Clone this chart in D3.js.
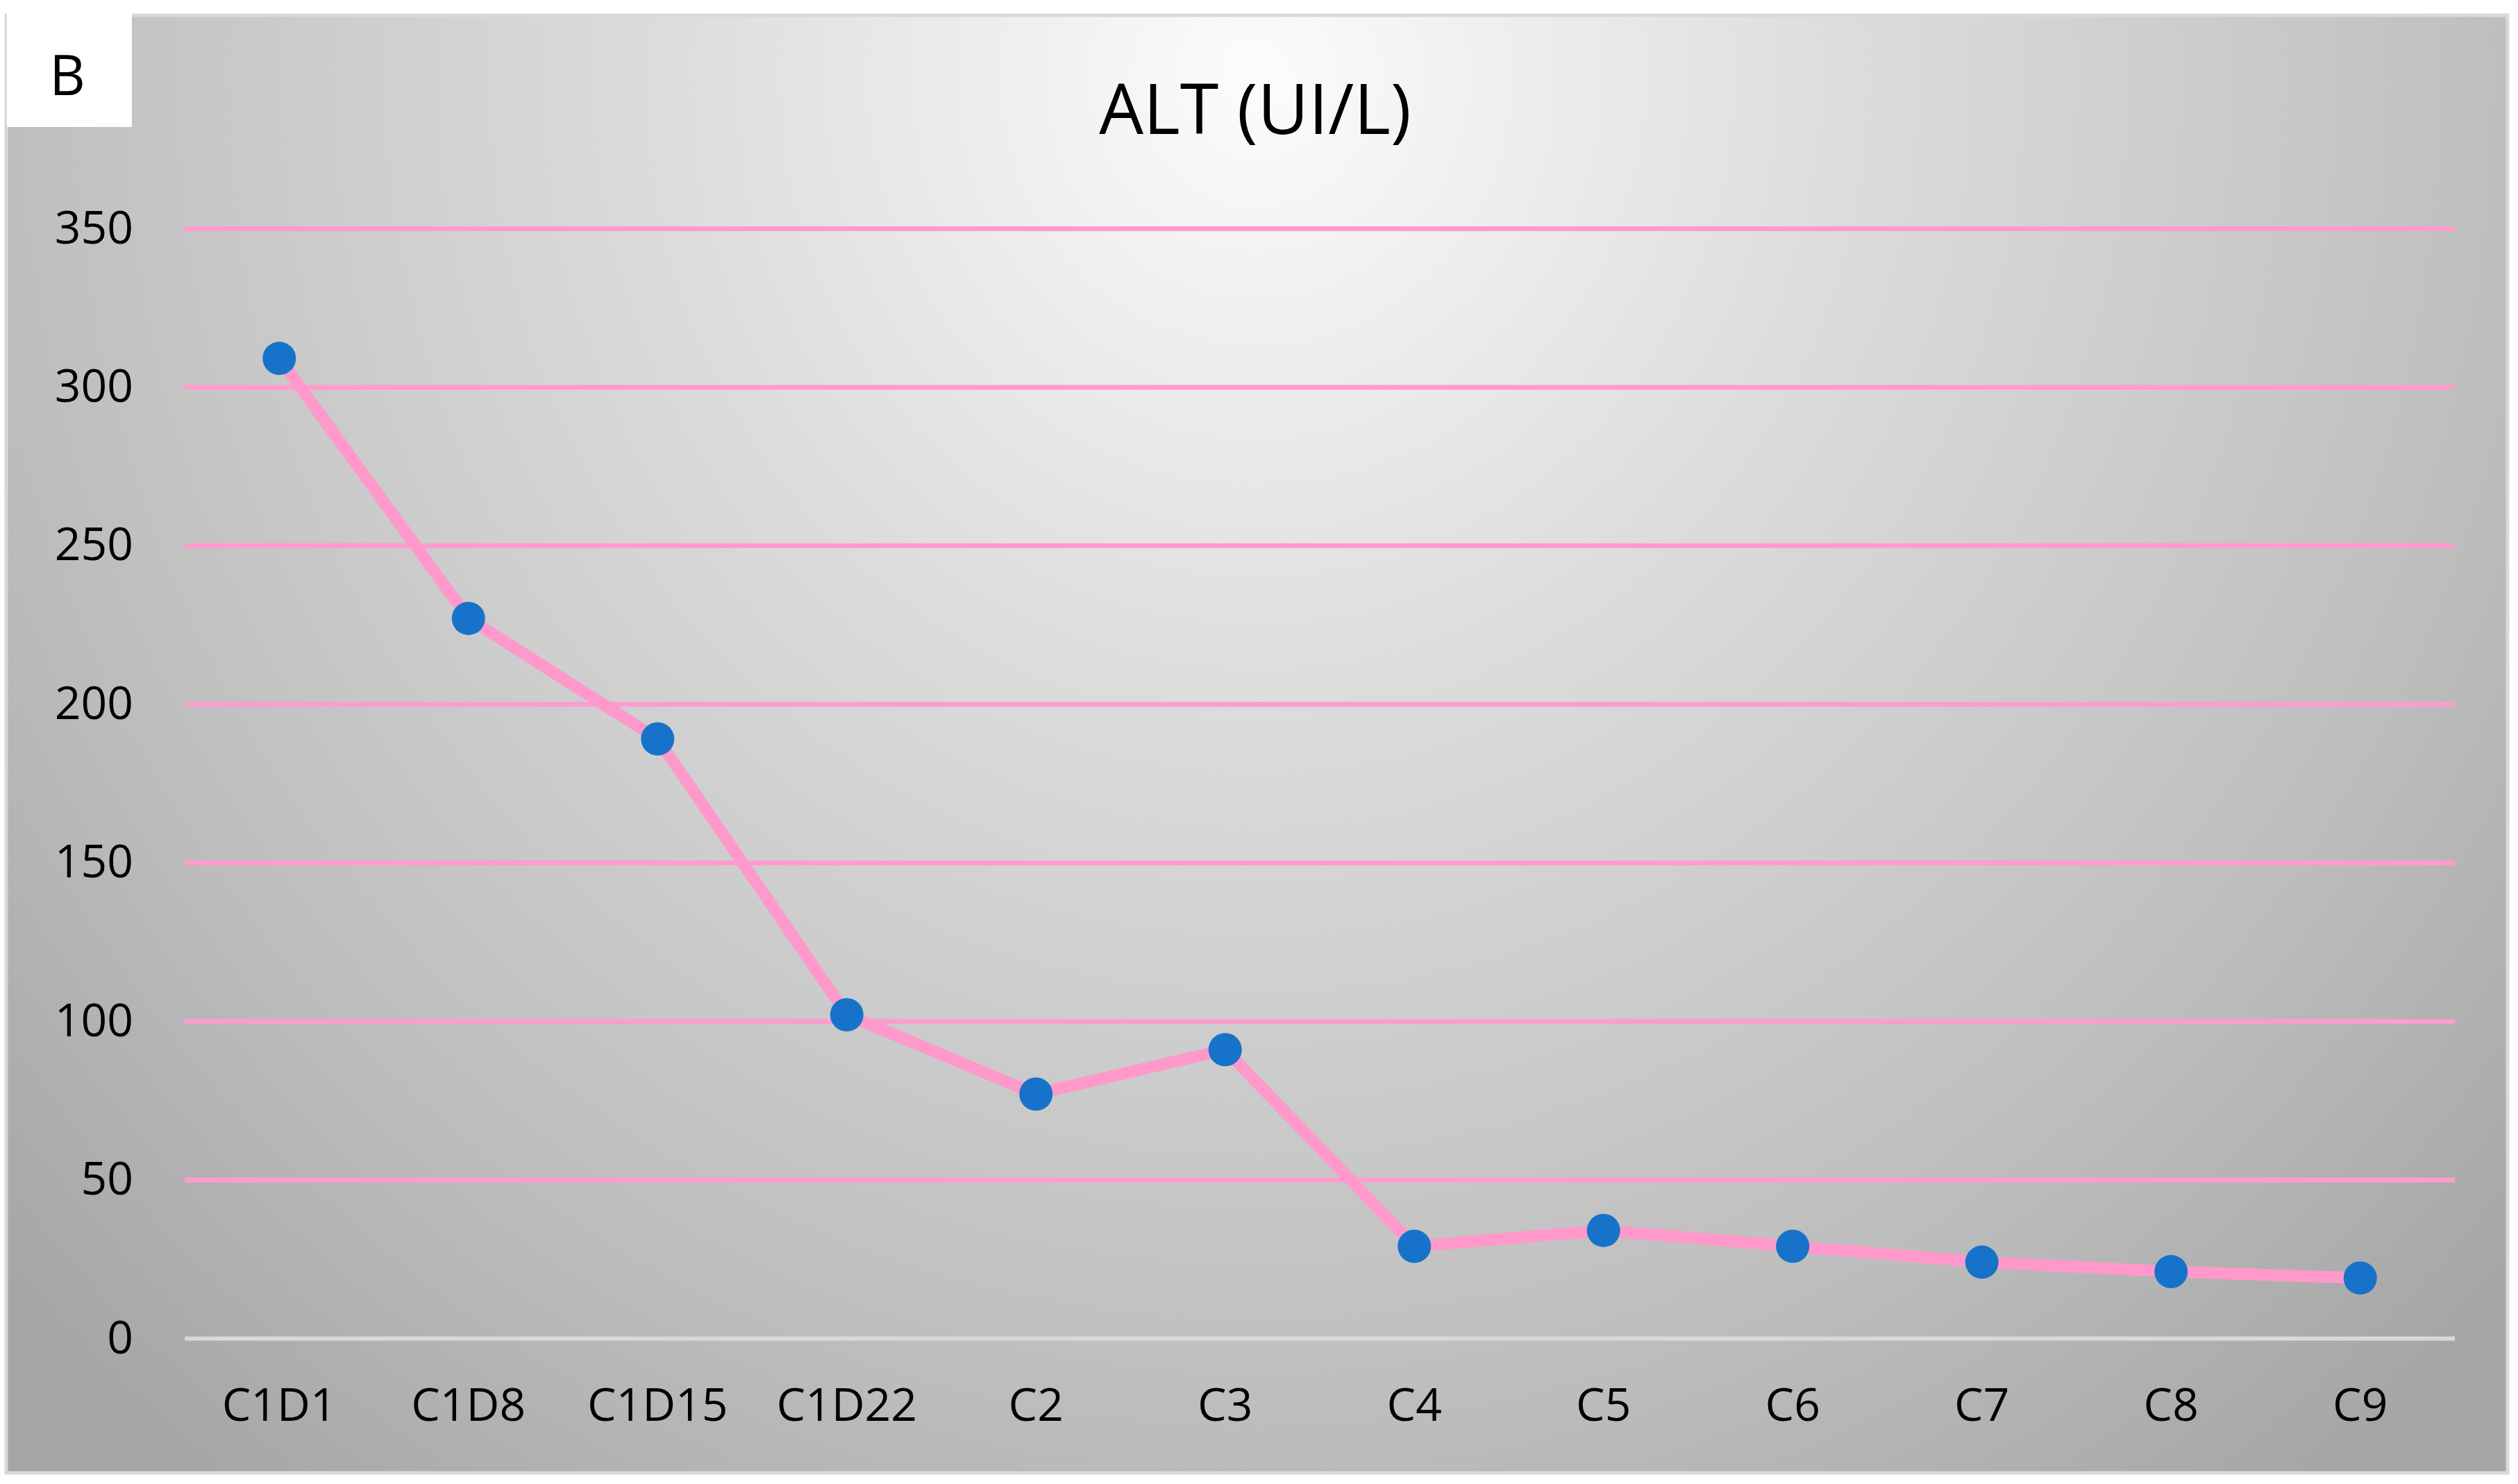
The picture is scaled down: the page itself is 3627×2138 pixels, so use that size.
<!DOCTYPE html>
<html>
<head>
<meta charset="utf-8">
<script src="https://cdn.jsdelivr.net/npm/d3@7"></script>
<style>
  html, body { margin: 0; padding: 0; background: #fff; }
  svg { display: block; font-family: "Open Sans", "Noto Sans", sans-serif; }
</style>
</head>
<body>
<svg id="chart" width="3627" height="2138"></svg>
<script>
// data
var categories = ["C1D1", "C1D8", "C1D15", "C1D22", "C2", "C3", "C4", "C5", "C6", "C7", "C8", "C9"];
var altValues = [309, 227, 189, 102, 77, 91, 29, 34, 29, 24, 21, 19];
var yTicks = [0, 50, 100, 150, 200, 250, 300, 350];
var chartTitle = "ALT (UI/L)";
var panelLabel = "B";

var svg = d3.select("#chart");
var plotL = 266, plotR = 3536, plotT = 329, plotB = 1928;

// background gradient, light at the top centre
var defs = svg.append("defs");
var grad = defs.append("radialGradient")
  .attr("id", "bg")
  .attr("gradientUnits", "userSpaceOnUse")
  .attr("cx", 1810).attr("cy", 110).attr("r", 2450)
  .attr("gradientTransform", "translate(1810,110) scale(1,1.05) translate(-1810,-110)");
grad.append("stop").attr("offset", "0").attr("stop-color", "#fcfcfc");
grad.append("stop").attr("offset", "0.35").attr("stop-color", "#dcdcdc");
grad.append("stop").attr("offset", "0.75").attr("stop-color", "#bdbdbd");
grad.append("stop").attr("offset", "1").attr("stop-color", "#a6a6a6");

svg.append("rect")
  .attr("x", 9).attr("y", 22).attr("width", 3603).attr("height", 2100)
  .attr("fill", "url(#bg)")
  .attr("stroke", "#d9d9d9").attr("stroke-width", 5);

// panel letter box
svg.append("rect")
  .attr("x", 10).attr("y", 19).attr("width", 180).attr("height", 164)
  .attr("fill", "#ffffff");
svg.append("text")
  .attr("x", 97).attr("y", 137)
  .attr("text-anchor", "middle")
  .attr("font-size", 80)
  .attr("fill", "#000")
  .text(panelLabel);

// title
svg.append("text")
  .attr("x", 1808).attr("y", 193)
  .attr("text-anchor", "middle")
  .attr("font-size", 101)
  .attr("fill", "#000")
  .text(chartTitle);

var x = d3.scaleBand().domain(categories).range([plotL, plotR]).padding(0);
var y = d3.scaleLinear().domain([0, 350]).range([plotB, plotT]);

// y axis with gridlines
var yAxis = svg.append("g")
  .attr("transform", "translate(" + plotL + ",0)")
  .call(d3.axisLeft(y).tickValues(yTicks).tickSize(-(plotR - plotL)).tickPadding(74));
yAxis.select(".domain").remove();
yAxis.selectAll(".tick line")
  .attr("stroke", function(d) { return d === 0 ? "#d9d9d9" : "#ff9bcf"; })
  .attr("stroke-width", function(d) { return d === 0 ? 6 : 7; });
yAxis.selectAll(".tick text")
  .attr("font-size", 66)
  .attr("fill", "#000")
  .attr("font-family", "Open Sans");

// x axis labels
var xAxis = svg.append("g")
  .attr("transform", "translate(0," + plotB + ")")
  .call(d3.axisBottom(x).tickSize(0).tickPadding(72));
xAxis.select(".domain").remove();
xAxis.selectAll(".tick text")
  .attr("font-size", 66)
  .attr("fill", "#000")
  .attr("font-family", "Open Sans");

// series
var cx = function(d, i) { return x(categories[i]) + x.bandwidth() / 2; };
var line = d3.line()
  .x(function(d, i) { return cx(d, i); })
  .y(function(d) { return y(d); });

svg.append("path")
  .datum(altValues)
  .attr("d", line)
  .attr("fill", "none")
  .attr("stroke", "#ff99cc")
  .attr("stroke-width", 17)
  .attr("stroke-linejoin", "round");

svg.selectAll(".pt").data(altValues).enter().append("circle")
  .attr("class", "pt")
  .attr("cx", cx)
  .attr("cy", function(d) { return y(d); })
  .attr("r", 24)
  .attr("fill", "#1773c9");
</script>
</body>
</html>
